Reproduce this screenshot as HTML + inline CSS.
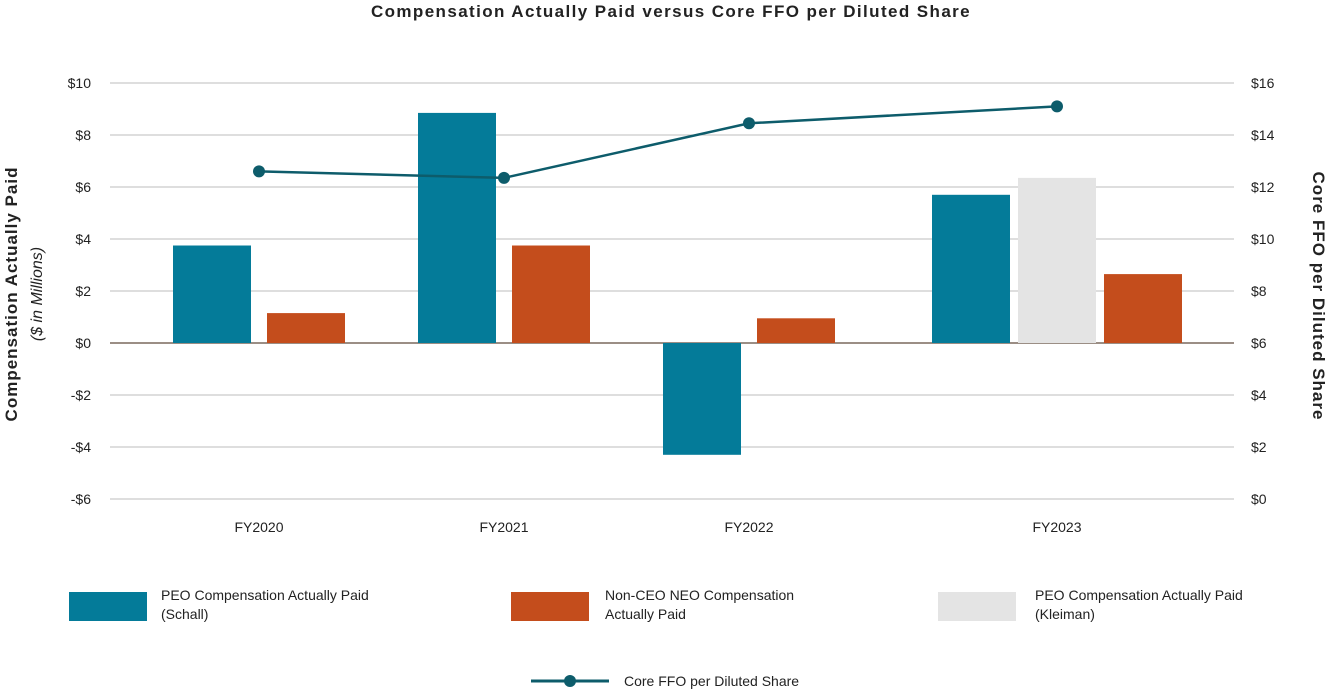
<!DOCTYPE html>
<html><head><meta charset="utf-8"><style>
body{margin:0;background:#fff;font-family:"Liberation Sans",sans-serif;}
svg text{font-family:"Liberation Sans",sans-serif;fill:#222;}
</style></head><body>
<svg width="1330" height="692" viewBox="0 0 1330 692">
<text x="671" y="17" text-anchor="middle" font-size="17" letter-spacing="1.4" font-weight="bold">Compensation Actually Paid versus Core FFO per Diluted Share</text>
<g id="grid"></g><g id="bars"></g><g id="line"></g><g id="axes"></g>
<text transform="translate(17,294) rotate(-90)" text-anchor="middle" font-size="17" letter-spacing="1" font-weight="bold">Compensation Actually Paid</text>
<text transform="translate(42,294) rotate(-90)" text-anchor="middle" font-size="16" font-style="italic">($ in Millions)</text>
<text transform="translate(1313,296) rotate(90)" text-anchor="middle" font-size="17" letter-spacing="1" font-weight="bold">Core FFO per Diluted Share</text>
<g>
<rect x="69" y="592" width="78" height="29" fill="#047b99"/>
<text x="161" y="600" font-size="14"><tspan x="161" dy="0">PEO Compensation Actually Paid</tspan><tspan x="161" dy="19">(Schall)</tspan></text>
<rect x="511" y="592" width="78" height="29" fill="#c44d1c"/>
<text x="605" y="600" font-size="14"><tspan x="605" dy="0">Non-CEO NEO Compensation</tspan><tspan x="605" dy="19">Actually Paid</tspan></text>
<rect x="938" y="592" width="78" height="29" fill="#e4e4e4"/>
<text x="1035" y="600" font-size="14"><tspan x="1035" dy="0">PEO Compensation Actually Paid</tspan><tspan x="1035" dy="19">(Kleiman)</tspan></text>
<line x1="531" y1="681" x2="609" y2="681" stroke="#0d5c6b" stroke-width="3"/>
<circle cx="570" cy="681" r="6" fill="#0d5c6b"/>
<text x="624" y="686" font-size="14">Core FFO per Diluted Share</text>
</g>
</svg>
<script>
const categories=["FY2020","FY2021","FY2022","FY2023"];
const peoSchall=[3.75,8.85,-4.3,5.7];
const peoKleiman=[null,null,null,6.35];
const neoComp=[1.15,3.75,0.95,2.65];
const coreFFO=[12.6,12.35,14.45,15.1];
const leftTicks=[10,8,6,4,2,0,-2,-4,-6];
const rightTicks=[16,14,12,10,8,6,4,2,0];
const NS="http://www.w3.org/2000/svg";
const X0=110,X1=1234,Y0=499,Y1=83;
const yL=v=>Y0-(v+6)/16*(Y0-Y1);
const yR=v=>Y0-v/16*(Y0-Y1);
function mk(t,a,p){const e=document.createElementNS(NS,t);for(const k in a)e.setAttribute(k,a[k]);p.appendChild(e);return e;}
const grid=document.getElementById('grid'),axes=document.getElementById('axes'),barsG=document.getElementById('bars'),lineG=document.getElementById('line');
leftTicks.forEach(v=>{const l=mk('line',{x1:X0,x2:X1,y1:yL(v),y2:yL(v),stroke:v===0?'#9b8e85':'#bdbdbd','stroke-width':v===0?2:1},grid);

const t=mk('text',{x:91,y:yL(v)+5,'text-anchor':'end','font-size':14},axes);t.textContent=(v<0?'-$':'$')+Math.abs(v);
});
rightTicks.forEach(v=>{const t=mk('text',{x:1251,y:yR(v)+5,'font-size':14},axes);t.textContent='$'+v;
});
const BW=78,GAP=73;
const counts=categories.map((c,i)=>1+(neoComp[i]!=null?1:0)+(peoKleiman[i]!=null?1:0));
const step=n=>n>2?86:94;
const gw=counts.map(n=>BW+(n-1)*step(n));
let cx=173;const centers=[];
categories.forEach((c,i)=>{
 const n=counts[i],s=step(n);
 if(i>0) cx+=GAP+(n>2?24:0);
 let bx=cx;
 const series=[[peoSchall[i],'#047b99','bar-peo-schall'],[peoKleiman[i],'#e4e4e4','bar-peo-kleiman'],[neoComp[i],'#c44d1c','bar-neo']];
 series.forEach(([v,col,nm])=>{if(v==null)return;
  const r=mk('rect',{x:bx,width:BW,y:Math.min(yL(v),yL(0)),height:Math.abs(yL(v)-yL(0)),fill:col},barsG);
  bx+=s;});
 const cen=cx+gw[i]/2;centers.push(cen);
 const t=mk('text',{x:cen,y:532,'text-anchor':'middle','font-size':14},axes);t.textContent=c;
 
 cx+=gw[i];});
const pts=coreFFO.map((v,i)=>[centers[i],yR(v)]);
const pl=mk('polyline',{points:pts.map(p=>p.join(',')).join(' '),fill:'none',stroke:'#0d5c6b','stroke-width':2.5},lineG);

pts.forEach(p=>{const c=mk('circle',{cx:p[0],cy:p[1],r:6,fill:'#0d5c6b'},lineG);
});
</script>
</body></html>
